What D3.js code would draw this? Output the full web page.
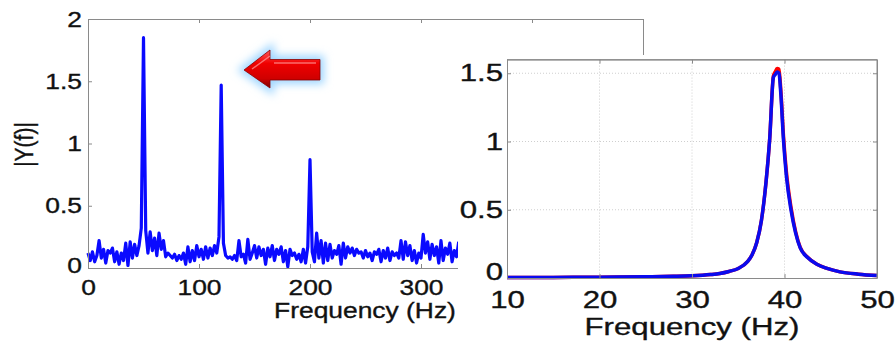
<!DOCTYPE html>
<html>
<head>
<meta charset="utf-8">
<script src="https://cdn.jsdelivr.net/npm/d3@7"></script>
<style>
html,body{margin:0;padding:0;background:#fff;}
svg{display:block;}
text{font-family:"Liberation Sans",Arial,Helvetica,sans-serif;fill:#111;}
</style>
</head>
<body>
<svg id="chart" width="896" height="341"></svg>
<script>
// ---------- DATA ----------
// Left panel: spectrum |Y(f)| sampled every 2 Hz from 0 Hz
const leftFreqStep = 2;
const leftAmp = [
0.12,0.06,0.13,0.05,0.10,0.22,0.08,0.15,0.04,0.14,
0.12,0.16,0.05,0.13,0.03,0.12,0.06,0.20,0.02,0.21,
0.08,0.19,0.10,0.18,0.32,1.85,0.30,0.12,0.29,0.14,
0.24,0.10,0.28,0.15,0.22,0.09,0.12,0.10,0.08,0.11,
0.06,0.10,0.07,0.12,0.03,0.17,0.05,0.14,0.06,0.18,
0.09,0.15,0.07,0.17,0.08,0.16,0.10,0.18,0.12,0.25,
1.47,0.20,0.10,0.08,0.09,0.07,0.10,0.06,0.22,0.09,
0.11,0.04,0.23,0.07,0.12,0.18,0.08,0.17,0.10,0.15,
0.03,0.16,0.09,0.18,0.06,0.15,0.11,0.17,0.05,0.14,
0.01,0.15,0.10,0.12,0.07,0.11,0.05,0.15,0.04,0.17,
0.87,0.13,0.05,0.28,0.08,0.22,0.04,0.20,0.06,0.19,
0.08,0.14,0.11,0.18,0.03,0.20,0.08,0.17,0.12,0.16,
0.10,0.15,0.12,0.13,0.08,0.14,0.09,0.12,0.06,0.13,
0.11,0.15,0.05,0.14,0.08,0.16,0.06,0.13,0.10,0.12,
0.08,0.22,0.07,0.21,0.10,0.18,0.06,0.14,0.04,0.12,
0.08,0.27,0.12,0.21,0.07,0.19,0.10,0.17,0.04,0.22,
0.06,0.16,0.11,0.20,0.05,0.14,0.09,0.21
];
const leftXTicks = [0,100,200,300,400,500];
const leftYTicks = [0,0.5,1,1.5,2];
const leftYTickLabels = ["0","0.5","1","1.5","2"];

// Right panel: resonance curves
const rightFreq = [10,15,20,25,28,30,32,33,34,35,36,36.5,37,37.5,38,38.4,38.8,39.0,39.2,39.4,39.6,39.9,40.2,40.7,41.2,41.7,42.5,43.5,44.6,46,48,50];
const rightBlue = [0.003,0.004,0.006,0.009,0.012,0.016,0.025,0.033,0.048,0.07,0.12,0.17,0.26,0.42,0.70,1.02,1.47,1.49,1.51,1.50,1.35,1.00,0.75,0.50,0.33,0.22,0.15,0.10,0.07,0.045,0.028,0.018];
const rightRed  = [0.003,0.004,0.006,0.009,0.012,0.016,0.025,0.033,0.048,0.07,0.12,0.17,0.26,0.42,0.70,1.02,1.48,1.51,1.535,1.53,1.38,1.03,0.78,0.52,0.34,0.225,0.152,0.10,0.07,0.045,0.028,0.018];
const rightXTicks = [10,20,30,40,50];
const rightYTicks = [0,0.5,1,1.5];
const rightYTickLabels = ["0","0.5","1","1.5"];

const xLabel = "Frequency (Hz)";
const yLabel = "|Y(f)|";

// ---------- DRAW ----------
const svg = d3.select("#chart");
const frameColor = "#8a8a8a";
const defs = svg.append("defs");
const textStroke = (sel)=>sel.attr("stroke","#111").attr("stroke-width",0.35);

// ===== Left panel =====
const lx = d3.scaleLinear().domain([0,500]).range([88,643]);
const ly = d3.scaleLinear().domain([0,2]).range([268,19]);
const L = svg.append("g");
const leftSX = 1.2, leftFont = 22;

function styleAxis(g){
  g.select(".domain").attr("stroke", frameColor).attr("stroke-width",1);
  g.selectAll(".tick line").attr("stroke", frameColor).attr("stroke-width",1);
}

const leftData = leftAmp.map((v,i)=>({f:i*leftFreqStep, v}));
L.append("path").datum(leftData)
  .attr("fill","none").attr("stroke","#0a0aff").attr("stroke-width",3.2)
  .attr("stroke-linejoin","round")
  .attr("d", d3.line().x(d=>lx(d.f)).y(d=>ly(d.v)));

const lb = L.append("g").attr("transform","translate(0,268)")
  .call(d3.axisBottom(lx).tickValues(leftXTicks).tickSizeInner(-4).tickSizeOuter(0).tickPadding(11).tickFormat(d3.format("d")));
styleAxis(lb);
lb.selectAll("text").attr("font-size",leftFont).attr("font-family","Liberation Sans, Arial, sans-serif").attr("fill","#111").attr("transform",`scale(${leftSX},1)`).call(textStroke);

const lt = L.append("g").attr("transform","translate(0,19)")
  .call(d3.axisTop(lx).tickValues(leftXTicks).tickSizeInner(-4).tickSizeOuter(0).tickFormat(""));
styleAxis(lt);

const ll = L.append("g").attr("transform","translate(88,0)")
  .call(d3.axisLeft(ly).tickValues(leftYTicks).tickSizeInner(-4).tickSizeOuter(0).tickPadding(5).tickFormat((d,i)=>leftYTickLabels[i]));
styleAxis(ll);
ll.selectAll("text").attr("font-size",leftFont).attr("font-family","Liberation Sans, Arial, sans-serif").attr("fill","#111").attr("transform",`scale(${leftSX},1)`).call(textStroke);
ll.selectAll(".tick").filter(d=>d===0).select("text").attr("dy","0.2em");

const lr = L.append("g").attr("transform","translate(643,0)")
  .call(d3.axisRight(ly).tickValues(leftYTicks).tickSizeInner(-4).tickSizeOuter(0).tickFormat(""));
styleAxis(lr);

L.append("text").attr("transform",`translate(365,318) scale(${leftSX},1)`)
  .attr("text-anchor","middle").attr("font-size",leftFont).call(textStroke).text(xLabel);
L.append("text").attr("transform",`translate(33,144.5) scale(${leftSX},1) rotate(-90)`)
  .attr("text-anchor","middle").attr("font-size",21).call(textStroke).text(yLabel);

// Arrow annotation with glow
const grad = defs.append("linearGradient").attr("id","arrowGrad").attr("x1",0).attr("y1",0).attr("x2",0).attr("y2",1);
grad.append("stop").attr("offset","0%").attr("stop-color","#ff5a5a");
grad.append("stop").attr("offset","35%").attr("stop-color","#f00000");
grad.append("stop").attr("offset","75%").attr("stop-color","#d00000");
grad.append("stop").attr("offset","100%").attr("stop-color","#7a0000");
const blur = defs.append("filter").attr("id","glow").attr("x","-30%").attr("y","-60%").attr("width","160%").attr("height","220%");
blur.append("feGaussianBlur").attr("stdDeviation",4.5);
const arrowPts = [[244,70],[270,50],[270,59.5],[320,59.5],[320,80],[270,80],[270,88]];
const arrowD = "M" + arrowPts.map(p=>p.join(",")).join("L") + "Z";
svg.append("path").attr("d",arrowD).attr("fill","#9fd6ff").attr("stroke","#9fd6ff").attr("stroke-width",8).attr("filter","url(#glow)");
svg.append("path").attr("d",arrowD).attr("fill","url(#arrowGrad)").attr("stroke","#8a0000").attr("stroke-width",0.8);
svg.append("path").attr("d","M252,69 L270,56 M274,63 L316,63").attr("stroke","#ff9a9a").attr("stroke-width",1.5).attr("fill","none").attr("opacity",0.7);

// ===== Right panel (inset image covering) =====
svg.append("rect").attr("x",458).attr("y",55).attr("width",438).attr("height",286).attr("fill","#fff");

const rx = d3.scaleLinear().domain([10,50]).range([507,877]);
const ry = d3.scaleLinear().domain([0,1.6]).range([278,59.6]);
const R = svg.append("g");
const rightSX = 1.3, rightFont = 24;

// grid
R.append("g").selectAll("line.vg").data(rightXTicks.slice(1,-1)).join("line")
  .attr("x1",d=>rx(d)).attr("x2",d=>rx(d)).attr("y1",ry(1.6)).attr("y2",ry(0))
  .attr("stroke","#cfcfcf").attr("stroke-width",1).attr("stroke-dasharray","1,2");
R.append("g").selectAll("line.hg").data(rightYTicks.slice(1)).join("line")
  .attr("x1",rx(10)).attr("x2",rx(50)).attr("y1",d=>ry(d)).attr("y2",d=>ry(d))
  .attr("stroke","#cfcfcf").attr("stroke-width",1).attr("stroke-dasharray","1,2");

const rline = d3.line().x((d,i)=>rx(rightFreq[i])).y(d=>ry(d)).curve(d3.curveMonotoneX);
R.append("path").datum(rightRed).attr("fill","none").attr("stroke","#ff0000").attr("stroke-width",3.5).attr("stroke-linejoin","round").attr("d",rline);
R.append("path").datum(rightBlue).attr("fill","none").attr("stroke","#0a0aee").attr("stroke-width",3.5).attr("stroke-linejoin","round").attr("d",rline);

const rb = R.append("g").attr("transform",`translate(0,${ry(0)})`)
  .call(d3.axisBottom(rx).tickValues(rightXTicks).tickSizeInner(-4).tickSizeOuter(0).tickPadding(13).tickFormat(d3.format("d")));
styleAxis(rb);
rb.selectAll("text").attr("font-size",rightFont).attr("font-family","Liberation Sans, Arial, sans-serif").attr("fill","#111").attr("transform",`scale(${rightSX},1)`).call(textStroke);

const rt = R.append("g").attr("transform",`translate(0,${ry(1.6)})`)
  .call(d3.axisTop(rx).tickValues(rightXTicks).tickSizeInner(-4).tickSizeOuter(0).tickFormat(""));
styleAxis(rt);

const rl = R.append("g").attr("transform",`translate(${rx(10)},0)`)
  .call(d3.axisLeft(ry).tickValues(rightYTicks).tickSizeInner(-4).tickSizeOuter(0).tickPadding(3).tickFormat((d,i)=>rightYTickLabels[i]));
styleAxis(rl);
rl.selectAll("text").attr("font-size",rightFont).attr("font-family","Liberation Sans, Arial, sans-serif").attr("fill","#111").attr("transform",`scale(${rightSX},1)`).call(textStroke);
rl.selectAll(".tick").filter(d=>d===0).select("text").attr("dy","0.08em");

const rr = R.append("g").attr("transform",`translate(${rx(50)},0)`)
  .call(d3.axisRight(ry).tickValues(rightYTicks).tickSizeInner(-4).tickSizeOuter(0).tickFormat(""));
styleAxis(rr);
R.append("line").attr("x1",rx(10)).attr("x2",rx(50)).attr("y1",ry(1.6)).attr("y2",ry(1.6)).attr("stroke",frameColor);
R.append("line").attr("x1",rx(50)).attr("x2",rx(50)).attr("y1",ry(1.6)).attr("y2",ry(0)).attr("stroke",frameColor);

R.append("text").attr("transform",`translate(692,335) scale(${rightSX},1)`)
  .attr("text-anchor","middle").attr("font-size",rightFont).call(textStroke).text(xLabel);
</script>
</body>
</html>
